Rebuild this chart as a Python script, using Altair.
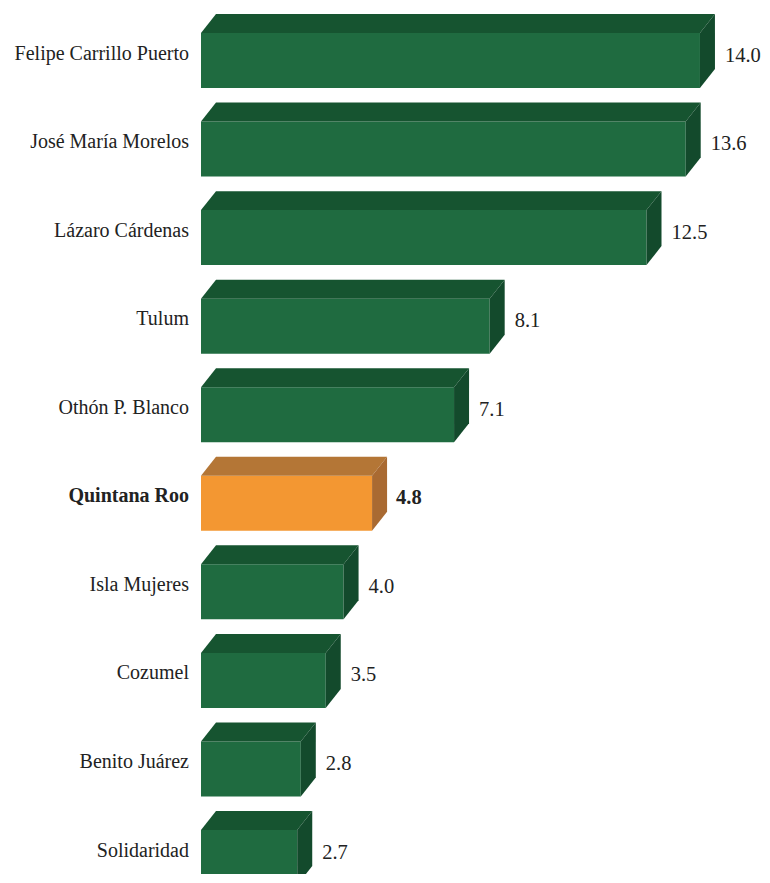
import altair as alt
import pandas as pd

# ---- data ----
names = ["Felipe Carrillo Puerto", "José María Morelos", "Lázaro Cárdenas", "Tulum",
         "Othón P. Blanco", "Quintana Roo", "Isla Mujeres", "Cozumel",
         "Benito Juárez", "Solidaridad"]
values = [14.0, 13.6, 12.5, 8.1, 7.1, 4.8, 4.0, 3.5, 2.8, 2.7]
highlight = "Quintana Roo"

# ---- geometry of the pseudo-3D boxes (in scale units) ----
HALF = 0.3105      # half height of the front face (category units)
DEPTH_Y = 0.2145   # vertical depth of the box (category units)
DEPTH_X = 0.421    # horizontal depth of the box (value units)

W, H = 754, 866
PX_PER_UNIT = 35.64
ZERO_PX = 193
X_DOMAIN = [-ZERO_PX / PX_PER_UNIT, (W - ZERO_PX) / PX_PER_UNIT]
Y_DOMAIN = [-52.5 / 88.56, (H - 52.5) / 88.56]

FONT = "Liberation Serif"
GREEN = {"front": "#1f6b40", "top": "#165430", "side": "#134a2c"}
ORANGE = {"front": "#f39732", "top": "#b47636", "side": "#a96a32"}

front_rows, top_rows, side_rows = [], [], []
for i, (n, v) in enumerate(zip(names, values)):
    hl = n == highlight
    t = i - HALF
    b = i + HALF
    front_rows.append({"name": n, "idx": i, "v": v, "x0": 0.0, "y": t, "y2": b, "hl": hl,
                       "label": f"{v:.1f}"})
    for xx, yy, yy2 in [(0.0, t, t), (DEPTH_X, t - DEPTH_Y, t), (v, t - DEPTH_Y, t),
                        (v + DEPTH_X, t - DEPTH_Y, t - DEPTH_Y)]:
        top_rows.append({"name": n, "x": xx, "y": yy, "y2": yy2, "hl": hl})
    for xx, yy, yy2 in [(v, t, b), (v + DEPTH_X, t - DEPTH_Y, b - DEPTH_Y)]:
        side_rows.append({"name": n, "x": xx, "y": yy, "y2": yy2, "hl": hl})

front = pd.DataFrame(front_rows)
top = pd.DataFrame(top_rows)
side = pd.DataFrame(side_rows)

xs = alt.Scale(domain=X_DOMAIN, nice=False, zero=False)
ys = alt.Scale(domain=Y_DOMAIN, nice=False, zero=False, reverse=True)


def col(part):
    return alt.condition("datum.hl", alt.value(ORANGE[part]), alt.value(GREEN[part]))


front_layer = alt.Chart(front).mark_rect().encode(
    x=alt.X("x0:Q", scale=xs, axis=None),
    x2="v:Q",
    y=alt.Y("y:Q", scale=ys, axis=None),
    y2="y2:Q",
    color=col("front"),
)

top_layer = alt.Chart(top).mark_area(orient="vertical").encode(
    x=alt.X("x:Q", scale=xs, axis=None),
    y=alt.Y("y:Q", scale=ys, axis=None),
    y2="y2:Q",
    detail="name:N",
    color=col("top"),
)

side_layer = alt.Chart(side).mark_area(orient="vertical").encode(
    x=alt.X("x:Q", scale=xs, axis=None),
    y=alt.Y("y:Q", scale=ys, axis=None),
    y2="y2:Q",
    detail="name:N",
    color=col("side"),
)

cat_normal = alt.Chart(front).transform_filter("!datum.hl").mark_text(
    align="right", baseline="alphabetic", font=FONT, fontSize=20, color="#222222", dy=-1
).encode(
    x=alt.value(181),
    y=alt.Y("idx:Q", scale=ys, axis=None),
    text="name:N",
)
cat_bold = alt.Chart(front).transform_filter("datum.hl").mark_text(
    align="right", baseline="alphabetic", font=FONT, fontSize=20, fontWeight="bold",
    color="#222222", dy=-1
).encode(
    x=alt.value(181),
    y=alt.Y("idx:Q", scale=ys, axis=None),
    text="name:N",
)

val_normal = alt.Chart(front).transform_filter("!datum.hl").mark_text(
    align="left", baseline="alphabetic", font=FONT, fontSize=20.5, color="#222222", dx=25, dy=1
).encode(
    x=alt.X("v:Q", scale=xs, axis=None),
    y=alt.Y("idx:Q", scale=ys, axis=None),
    text="label:N",
)
val_bold = alt.Chart(front).transform_filter("datum.hl").mark_text(
    align="left", baseline="alphabetic", font=FONT, fontSize=20.5, fontWeight="bold",
    color="#222222", dx=24, dy=1
).encode(
    x=alt.X("v:Q", scale=xs, axis=None),
    y=alt.Y("idx:Q", scale=ys, axis=None),
    text="label:N",
)

chart = alt.layer(
    front_layer, top_layer, side_layer, cat_normal, cat_bold, val_normal, val_bold
).properties(
    width=W, height=H,
    autosize=alt.AutoSizeParams(type="none"),
    padding={"left": 0, "top": 0, "right": 0, "bottom": 0},
).configure(background="white").configure_view(stroke=None, strokeWidth=0)

chart.save("out.html", embed_options={"renderer": "svg", "actions": False})
